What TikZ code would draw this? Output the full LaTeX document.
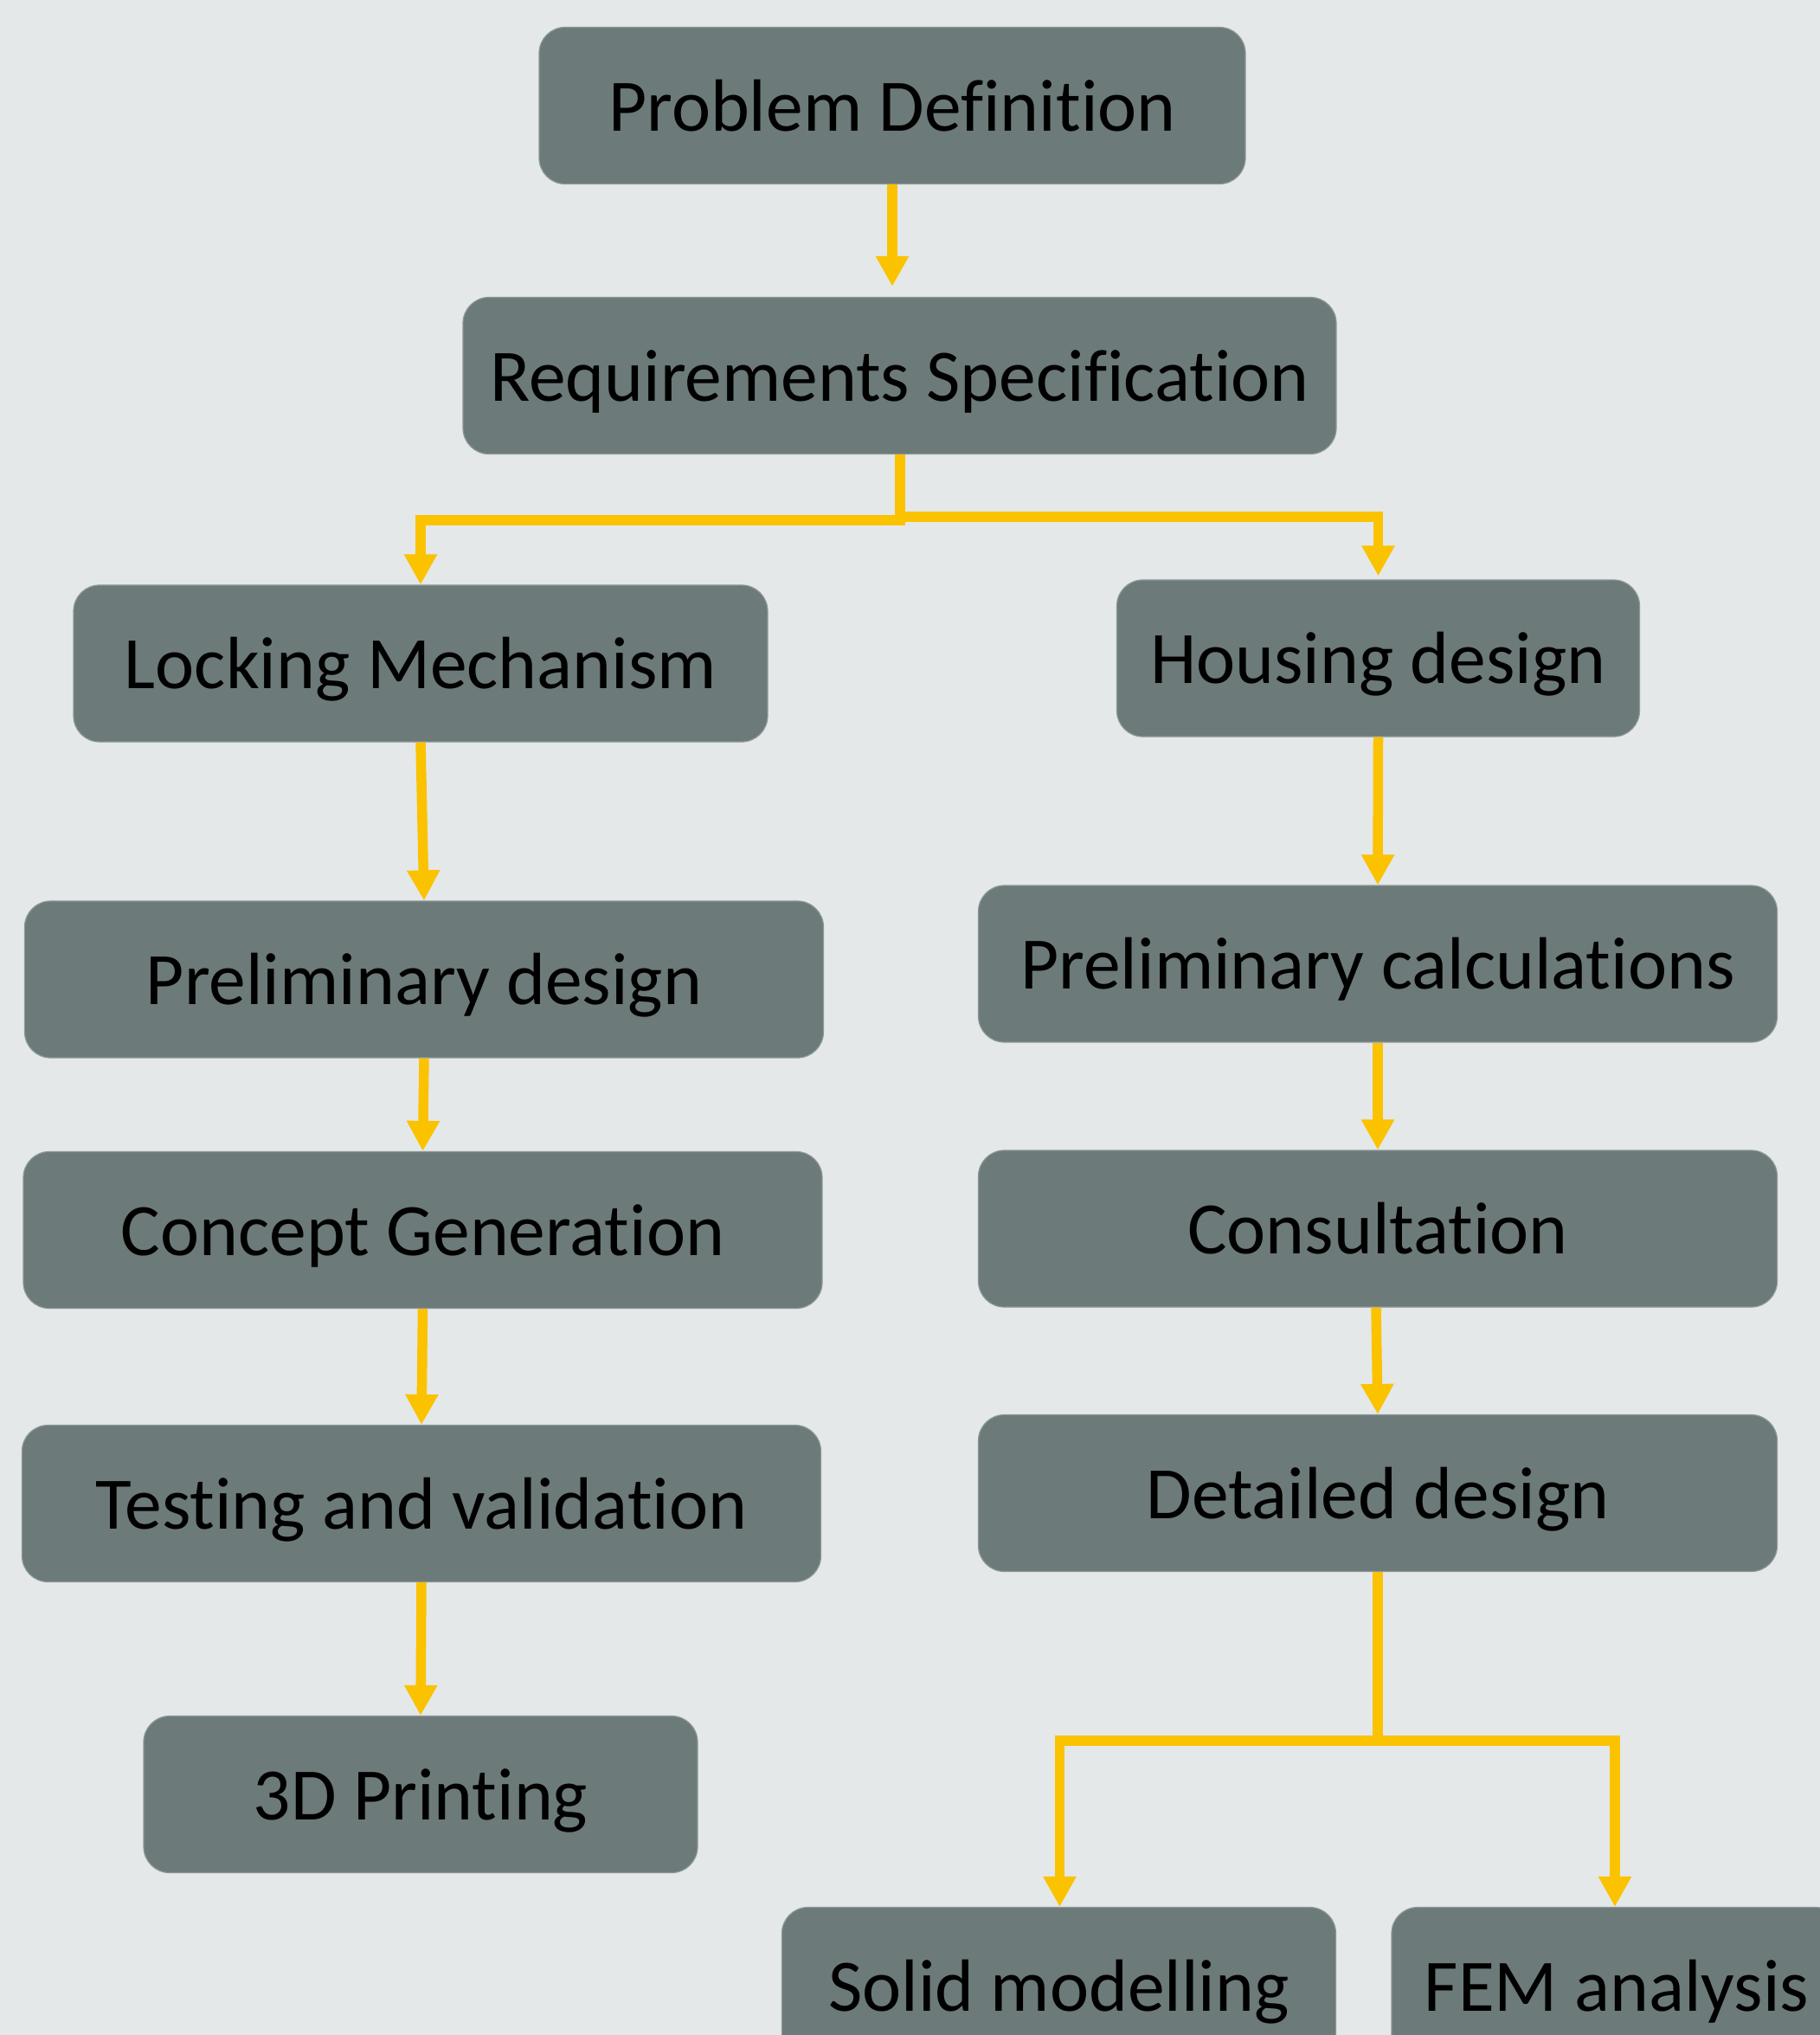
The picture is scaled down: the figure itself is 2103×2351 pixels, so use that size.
\documentclass[tikz,border=0pt]{standalone}
\usepackage{fontspec}
\setmainfont{Carlito}[Ligatures={NoCommon}]
\usetikzlibrary{arrows.meta}
\definecolor{bgc}{HTML}{E4E8E9}
\definecolor{boxc}{HTML}{6C7A79}
\definecolor{boxedge}{HTML}{8C9896}
\definecolor{arrc}{HTML}{FBC200}
\tikzset{
  stepbox/.style={rectangle, rounded corners=30pt, fill=boxc, draw=boxedge, line width=1.2pt,
    inner sep=0pt, text height=58pt, text depth=0pt, text=black,
    font=\fontsize{85.5}{100}\selectfont, minimum height=181pt},
  flow/.style={draw=arrc, line width=11.5pt, miter limit=10,
    -{Triangle[length=35pt,width=36pt]}},
  flowline/.style={draw=arrc, line width=11.5pt}
}
\begin{document}
\begin{tikzpicture}[x=1pt,y=-1pt]
\clip (0,0) rectangle (2103,2351);
\fill[bgc] (0,0) rectangle (2103,2351);

\node[stepbox, minimum width=816pt] (pd) at (1031,122) {Problem Definition};
\node[stepbox, minimum width=1009pt] (rs) at (1039.5,434) {Requirements Specification};
\node[stepbox, minimum width=802pt] (lm) at (486,766.5) {Locking Mechanism};
\node[stepbox, minimum width=604pt] (hd) at (1592.5,760.5) {Housing design};
\node[stepbox, minimum width=923pt] (pdes) at (490,1131.5) {Preliminary design};
\node[stepbox, minimum width=923pt] (pc) at (1592,1113.5) {Preliminary calculations};
\node[stepbox, minimum width=923pt] (cg) at (488.5,1421) {Concept Generation};
\node[stepbox, minimum width=923pt] (cons) at (1592,1419.5) {Consultation};
\node[stepbox, minimum width=923pt] (tv) at (487,1737) {Testing and validation};
\node[stepbox, minimum width=923pt] (dd) at (1592,1725) {Detailed design};
\node[stepbox, minimum width=640pt] (tdp) at (486,2073) {3D Printing};
\node[stepbox, minimum width=640pt] (sm) at (1223.5,2294) {Solid modelling};
\node[stepbox, minimum width=520pt] (fem) at (1868,2294) {FEM analysis};

\coordinate (j1) at (1040,601);
\coordinate (j2) at (1040,597);
\coordinate (j3) at (1592,2011);

\draw[flow, shorten >=12pt] (pd.south) -- (pd.south |- rs.north);
\draw[flow] (rs.south -| j1) -- (j1) -| (lm.north);
\draw[flow, shorten >=4pt] (j2) -| (hd.north);
\draw[flow] (lm.south) -- (pdes.north);
\draw[flow] (pdes.south) -- (cg.north);
\draw[flow] (cg.south) -- (tv.north);
\draw[flow] (tv.south) -- (tdp.north);
\draw[flow] (hd.south) -- (pc.north);
\draw[flow] (pc.south) -- (cons.north);
\draw[flow] ([xshift=-2pt]cons.south) -- (dd.north);
\draw[flowline] (dd.south) -- (j3);
\draw[flow] (j3) -| ([xshift=1pt]sm.north);
\draw[flow] (j3) -| ([xshift=-2pt]fem.north);
\end{tikzpicture}
\end{document}
